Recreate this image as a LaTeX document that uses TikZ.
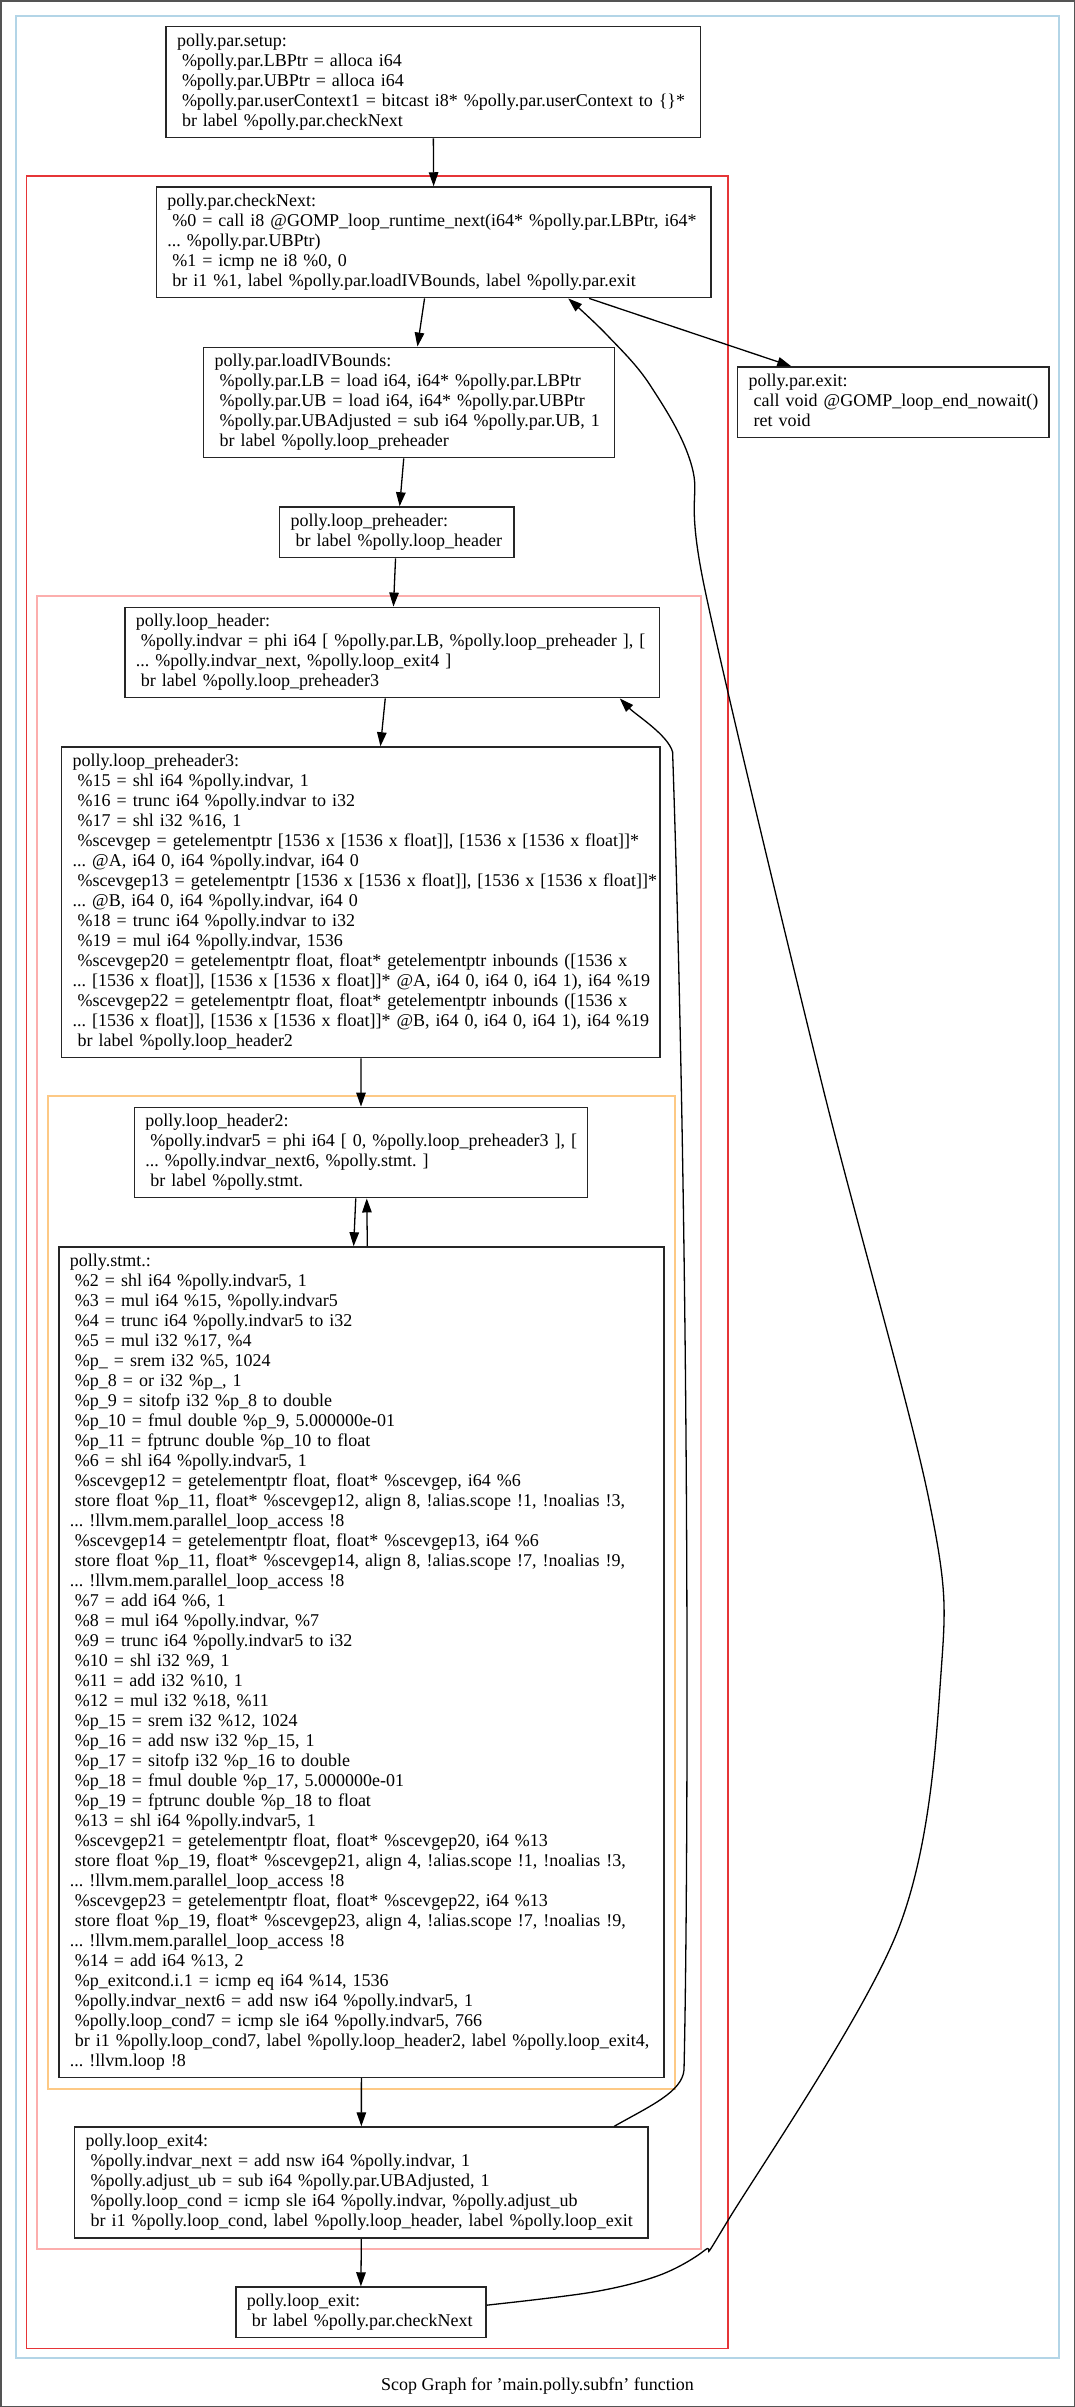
\documentclass[tikz,border=0pt]{standalone}
\usepackage{fontspec}
\setmainfont{Liberation Serif}
\usetikzlibrary{arrows.meta}

% region colours (paired12 scheme)
\definecolor{regblue}{HTML}{A6CEE3}
\definecolor{regred}{HTML}{E31A1C}
\definecolor{regpink}{HTML}{FB9A99}
\definecolor{regorange}{HTML}{FDBF6F}

\newcommand\irfont{\fontsize{18pt}{20pt}\selectfont\frenchspacing}
\newcommand\indl{\hspace*{5pt}}
\newcommand\irblock[1]{\begin{tabular}{@{}l@{}}#1\end{tabular}}

\begin{document}
\begin{tikzpicture}[x=1pt, y=-1pt,
  block/.style 2 args={draw=black!85, line width=1.5pt, text width=#1,
    minimum height=#2, inner xsep=11pt, inner ysep=0pt, align=left, font=\irfont},
  edge/.style={draw=black, line width=1.3pt, -{Triangle[length=14pt,width=9.5pt]}},
  region/.style={line width=2pt}]

\useasboundingbox (0,0) rectangle (1075,2407);
\draw[black!67, line width=1.5pt] (0.75,0.75) rectangle (1074.25,2406.25);

% nested regions
\draw[region, draw=regblue!85!white] (15.7,15.7) rectangle (1059,2358);
\draw[region, line width=1.4pt, draw=regred!88!white] (26.5,176) rectangle (728,2348.5);
\draw[region, draw=regpink!80!white] (37,595.7) rectangle (700.7,2249);
\draw[region, draw=regorange!85!white] (47.7,1095.7) rectangle (674.7,2089);

% basic blocks
\node[block={512.7pt}{111pt}] (setup) at (433.35,82.2) {\irblock{%
polly.par.setup:\\
\indl\%polly.par.LBPtr = alloca i64\\
\indl\%polly.par.UBPtr = alloca i64\\
\indl\%polly.par.userContext1 = bitcast i8* \%polly.par.userContext to \{\}*\\
\indl br label \%polly.par.checkNext}};

\node[block={532.7pt}{110.7pt}] (cn) at (433.65,242.35) {\irblock{%
polly.par.checkNext:\\
\indl\%0 = call i8 @GOMP\_loop\_runtime\_next(i64* \%polly.par.LBPtr, i64*\\
... \%polly.par.UBPtr)\\
\indl\%1 = icmp ne i8 \%0, 0\\
\indl br i1 \%1, label \%polly.par.loadIVBounds, label \%polly.par.exit}};

\node[block={388.7pt}{110.4pt}] (liv) at (408.95,402.5) {\irblock{%
polly.par.loadIVBounds:\\
\indl\%polly.par.LB = load i64, i64* \%polly.par.LBPtr\\
\indl\%polly.par.UB = load i64, i64* \%polly.par.UBPtr\\
\indl\%polly.par.UBAdjusted = sub i64 \%polly.par.UB, 1\\
\indl br label \%polly.loop\_preheader}};

\node[block={289.3pt}{70.7pt}] (pex) at (893.35,402.35) {\irblock{%
polly.par.exit:\\
\indl call void @GOMP\_loop\_end\_nowait()\\
\indl ret void}};

\node[block={212.5pt}{50.7pt}] (lph) at (396.95,532.35) {\irblock{%
polly.loop\_preheader:\\
\indl br label \%polly.loop\_header}};

\node[block={512.7pt}{90.4pt}] (lh) at (392.15,652.5) {\irblock{%
polly.loop\_header:\\
\indl\%polly.indvar = phi i64 [ \%polly.par.LB, \%polly.loop\_preheader ], [\\
... \%polly.indvar\_next, \%polly.loop\_exit4 ]\\
\indl br label \%polly.loop\_preheader3}};

\node[block={576.5pt}{310.7pt}] (lph3) at (360.95,902.35) {\irblock{%
polly.loop\_preheader3:\\
\indl\%15 = shl i64 \%polly.indvar, 1\\
\indl\%16 = trunc i64 \%polly.indvar to i32\\
\indl\%17 = shl i32 \%16, 1\\
\indl\%scevgep = getelementptr [1536 x [1536 x float]], [1536 x [1536 x float]]*\\
... @A, i64 0, i64 \%polly.indvar, i64 0\\
\indl\%scevgep13 = getelementptr [1536 x [1536 x float]], [1536 x [1536 x float]]*\\
... @B, i64 0, i64 \%polly.indvar, i64 0\\
\indl\%18 = trunc i64 \%polly.indvar to i32\\
\indl\%19 = mul i64 \%polly.indvar, 1536\\
\indl\%scevgep20 = getelementptr float, float* getelementptr inbounds ([1536 x\\
... [1536 x float]], [1536 x [1536 x float]]* @A, i64 0, i64 0, i64 1), i64 \%19\\
\indl\%scevgep22 = getelementptr float, float* getelementptr inbounds ([1536 x\\
... [1536 x float]], [1536 x [1536 x float]]* @B, i64 0, i64 0, i64 1), i64 \%19\\
\indl br label \%polly.loop\_header2}};

\node[block={431.2pt}{90.4pt}] (lh2) at (361,1152.5) {\irblock{%
polly.loop\_header2:\\
\indl\%polly.indvar5 = phi i64 [ 0, \%polly.loop\_preheader3 ], [\\
... \%polly.indvar\_next6, \%polly.stmt. ]\\
\indl br label \%polly.stmt.}};

\node[block={583pt}{830.5pt}] (stmt) at (361.4,1662.2) {\irblock{%
polly.stmt.:\\
\indl\%2 = shl i64 \%polly.indvar5, 1\\
\indl\%3 = mul i64 \%15, \%polly.indvar5\\
\indl\%4 = trunc i64 \%polly.indvar5 to i32\\
\indl\%5 = mul i32 \%17, \%4\\
\indl\%p\_ = srem i32 \%5, 1024\\
\indl\%p\_8 = or i32 \%p\_, 1\\
\indl\%p\_9 = sitofp i32 \%p\_8 to double\\
\indl\%p\_10 = fmul double \%p\_9, 5.000000e-01\\
\indl\%p\_11 = fptrunc double \%p\_10 to float\\
\indl\%6 = shl i64 \%polly.indvar5, 1\\
\indl\%scevgep12 = getelementptr float, float* \%scevgep, i64 \%6\\
\indl store float \%p\_11, float* \%scevgep12, align 8, !alias.scope !1, !noalias !3,\\
... !llvm.mem.parallel\_loop\_access !8\\
\indl\%scevgep14 = getelementptr float, float* \%scevgep13, i64 \%6\\
\indl store float \%p\_11, float* \%scevgep14, align 8, !alias.scope !7, !noalias !9,\\
... !llvm.mem.parallel\_loop\_access !8\\
\indl\%7 = add i64 \%6, 1\\
\indl\%8 = mul i64 \%polly.indvar, \%7\\
\indl\%9 = trunc i64 \%polly.indvar5 to i32\\
\indl\%10 = shl i32 \%9, 1\\
\indl\%11 = add i32 \%10, 1\\
\indl\%12 = mul i32 \%18, \%11\\
\indl\%p\_15 = srem i32 \%12, 1024\\
\indl\%p\_16 = add nsw i32 \%p\_15, 1\\
\indl\%p\_17 = sitofp i32 \%p\_16 to double\\
\indl\%p\_18 = fmul double \%p\_17, 5.000000e-01\\
\indl\%p\_19 = fptrunc double \%p\_18 to float\\
\indl\%13 = shl i64 \%polly.indvar5, 1\\
\indl\%scevgep21 = getelementptr float, float* \%scevgep20, i64 \%13\\
\indl store float \%p\_19, float* \%scevgep21, align 4, !alias.scope !1, !noalias !3,\\
... !llvm.mem.parallel\_loop\_access !8\\
\indl\%scevgep23 = getelementptr float, float* \%scevgep22, i64 \%13\\
\indl store float \%p\_19, float* \%scevgep23, align 4, !alias.scope !7, !noalias !9,\\
... !llvm.mem.parallel\_loop\_access !8\\
\indl\%14 = add i64 \%13, 2\\
\indl\%p\_exitcond.i.1 = icmp eq i64 \%14, 1536\\
\indl\%polly.indvar\_next6 = add nsw i64 \%polly.indvar5, 1\\
\indl\%polly.loop\_cond7 = icmp sle i64 \%polly.indvar5, 766\\
\indl br i1 \%polly.loop\_cond7, label \%polly.loop\_header2, label \%polly.loop\_exit4,\\
... !llvm.loop !8}};

\node[block={551.3pt}{111pt}] (le4) at (361.35,2182.5) {\irblock{%
polly.loop\_exit4:\\
\indl\%polly.indvar\_next = add nsw i64 \%polly.indvar, 1\\
\indl\%polly.adjust\_ub = sub i64 \%polly.par.UBAdjusted, 1\\
\indl\%polly.loop\_cond = icmp sle i64 \%polly.indvar, \%polly.adjust\_ub\\
\indl br i1 \%polly.loop\_cond, label \%polly.loop\_header, label \%polly.loop\_exit}};

\node[block={228.2pt}{50.3pt}] (le) at (360.9,2312.15) {\irblock{%
polly.loop\_exit:\\
\indl br label \%polly.par.checkNext}};

\node[font=\irfont] (title) at (537.5,2385.6) {Scop Graph for 'main.polly.subfn' function};

% control flow edges
\draw[edge] (setup.south) -- (cn.north);
\draw[edge] ([xshift=269pt]cn.south west) -- ([xshift=214.6pt]liv.north west);
\draw[edge] ([xshift=433.7pt]cn.south west) -- ([xshift=54.3pt]pex.north west);
\draw[edge] ([xshift=200.9pt]liv.south west) -- ([xshift=120.7pt]lph.north west);
\draw[edge] ([xshift=116.6pt]lph.south west) -- ([xshift=269.4pt]lh.north west);
\draw[edge] ([xshift=261.2pt]lh.south west) -- ([xshift=319.5pt]lph3.north west);
\draw[edge] (lph3.south) -- (lh2.north);
\draw[edge] ([xshift=222.1pt]lh2.south west) -- ([xshift=295.5pt]stmt.north west);
\draw[edge] ([xshift=309.2pt]stmt.north west) -- ([xshift=233.1pt]lh2.south west);
\draw[edge] (stmt.south) -- (le4.north);
\draw[edge] (le4.south) -- (le.north);

% back edge of the outer loop
\draw[edge] ([xshift=540.3pt]le4.north west)
  .. controls (650,2106) and (682,2092) .. (684,2070)
  .. controls (688,1900) and (691,1300) .. (672.6,752)
  .. controls (668,735) and (636,715) .. ([xshift=495.7pt]lh.south west);

% back edge to the dispatcher
\draw[edge] plot[smooth, tension=0.55] coordinates {([yshift=7pt]le.east)
  (593,2292) (660,2275) (705,2250) (727,2222) (898,1930) (941,1673) (929,1500)
  (821,1080) (705,590) (692,467) (650,385) (607,335) ([xshift=412.7pt]cn.south west)};

\end{tikzpicture}
\end{document}
